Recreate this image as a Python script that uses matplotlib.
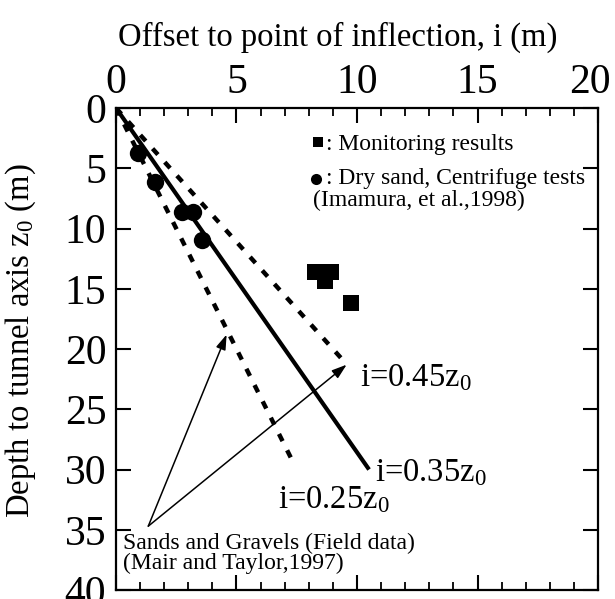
import matplotlib
matplotlib.use("Agg")
import matplotlib.pyplot as plt
import matplotlib.transforms as mtransforms
from matplotlib.ticker import MultipleLocator

plt.rcParams['font.family'] = ['Liberation Serif', 'DejaVu Serif']
plt.rcParams['mathtext.fontset'] = 'custom'
plt.rcParams['mathtext.rm'] = 'Liberation Serif'
plt.rcParams['mathtext.it'] = 'Liberation Serif:italic'

# Data
circle_i = [0.93, 1.62, 2.72, 3.21, 3.55]
circle_z = [3.76, 6.10, 8.60, 8.60, 10.95]
square_i = [8.24, 8.92, 8.68, 9.73]
square_z = [13.60, 13.60, 14.36, 16.17]
ratios = [0.25, 0.35, 0.45]
line_end_z = [29.0, 30.0, 21.3]
line_labels = [r'i=0.25z$_{\mathrm{0}}$', r'i=0.35z$_{\mathrm{0}}$', r'i=0.45z$_{\mathrm{0}}$']
x_ticks = [0, 5, 10, 15, 20]
y_ticks = [0, 5, 10, 15, 20, 25, 30, 35, 40]

fig = plt.figure(figsize=(6.15, 5.99), dpi=100)
ax = fig.add_axes([0.1886, 0.015, 0.7838, 0.8047])

# lines
for r, ze in zip(ratios, line_end_z):
    if r == 0.35:
        ax.plot([0, r * ze], [0, ze], color='black', lw=3.0, solid_capstyle='butt')
    else:
        ax.plot([0, r * ze], [0, ze], color='black', lw=3.2, linestyle=(0, (1.8, 2.3)),
                dash_capstyle='butt')

ax.plot(circle_i, circle_z, 'o', color='black', markersize=12.5, markeredgewidth=0)
ax.plot(square_i, square_z, 's', color='black', markersize=11.5, markeredgewidth=0)

# line labels
ax.text(6.72, 32.5, line_labels[0], fontsize=23.5, va='center', ha='left')
ax.text(10.75, 30.3, line_labels[1], fontsize=23.5, va='center', ha='left')
ax.text(10.12, 22.4, line_labels[2], fontsize=23.5, va='center', ha='left')

# legend-like annotations
ax.plot([8.37], [2.80], 's', color='black', markersize=7.5, markeredgewidth=0)
ax.text(8.7, 3.05, ': Monitoring results', fontsize=17, va='center', ha='left')
ax.plot([8.30], [5.90], 'o', color='black', markersize=8, markeredgewidth=0)
ax.text(8.7, 5.82, ': Dry sand, Centrifuge tests', fontsize=17, va='center', ha='left')
ax.text(8.17, 7.65, '(Imamura, et al.,1998)', fontsize=17, va='center', ha='left')

# Field data annotation with arrows
ax.text(0.29, 36.95, 'Sands and Gravels (Field data)\n(Mair and Taylor,1997)', fontsize=17,
        va='center', ha='left', linespacing=0.96)
tail = (1.34, 34.7)
for head in [(4.59, 18.8), (9.57, 21.3)]:
    ax.annotate('', xy=head, xytext=tail,
                arrowprops=dict(arrowstyle='-|>,head_length=0.9,head_width=0.3',
                                color='black', lw=1.1, shrinkA=0, shrinkB=0))

ax.set_xlim(0, 20)
ax.set_ylim(40, 0)
ax.xaxis.tick_top()
ax.xaxis.set_label_position('top')
ax.set_xticks(x_ticks)
ax.set_yticks(y_ticks)
ax.xaxis.set_minor_locator(MultipleLocator(1))
ax.tick_params(axis='x', which='major', direction='in', length=11, width=1.5,
               top=True, bottom=True, labelsize=30, pad=4.5)
ax.tick_params(axis='x', which='minor', direction='in', length=5.5, width=1.3,
               top=True, bottom=True)
ax.tick_params(axis='y', which='major', direction='in', length=11, width=1.5,
               left=True, right=True, labelsize=30, pad=7)
for s in ax.spines.values():
    s.set_linewidth(1.6)

# shift the last top tick label ("20") left so it fits, as in the reference
fig.canvas.draw()
last = ax.xaxis.get_major_ticks()[-1].label2
last.set_transform(last.get_transform() +
                   mtransforms.ScaledTranslation(-0.08, 0, fig.dpi_scale_trans))

ax.set_xlabel('Offset to point of inflection, i (m)', fontsize=23.5)
ax.xaxis.set_label_coords((338 - 116) / 482, (590 - 37) / 482)
ax.xaxis.label.set_verticalalignment('center')
ax.set_ylabel(r'Depth to tunnel axis z$_{\mathrm{0}}$ (m)', fontsize=23.5)
ax.yaxis.set_label_coords((38 - 116) / 482, (590 - 341) / 482)

fig.savefig('out.png', dpi=100)
